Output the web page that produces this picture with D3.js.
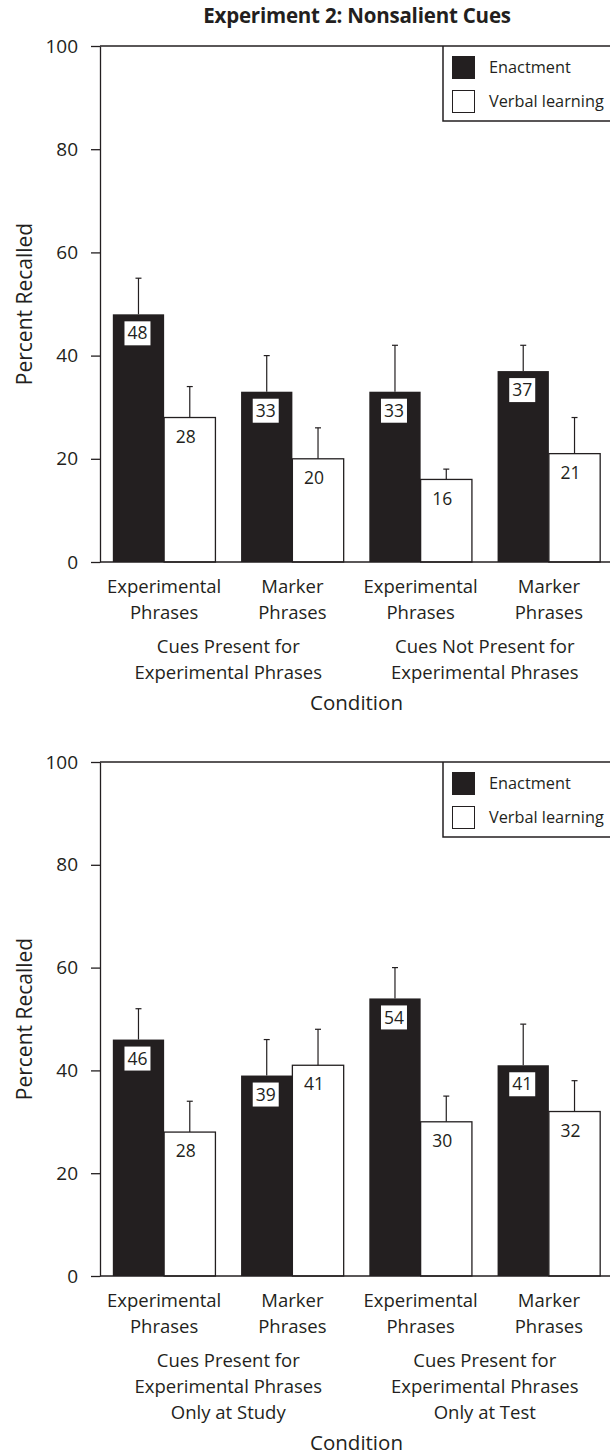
<!DOCTYPE html>
<html>
<head>
<meta charset="utf-8">
<script src="https://cdn.jsdelivr.net/npm/d3@7"></script>
<style>
  html, body { margin: 0; padding: 0; background: #fff; }
  svg { display: block; font-family: "Open Sans", "Noto Sans", sans-serif; }
</style>
</head>
<body>
<svg id="chart" width="610" height="1456"></svg>
<script>
// Recall data: mean percent recalled and upper error-bar ends, per condition
const seriesNames = ["Enactment", "Verbal learning"];
const categoryLines = [
  ["Experimental", "Phrases"],
  ["Marker", "Phrases"],
  ["Experimental", "Phrases"],
  ["Marker", "Phrases"]
];
const yTicks = [0, 20, 40, 60, 80, 100];

// Panel 1: Experiment 2, nonsalient cues
const p1Enactment = [48, 33, 33, 37];
const p1Verbal = [28, 20, 16, 21];
const p1EnactmentUpper = [55, 40, 42, 42];
const p1VerbalUpper = [34, 26, 18, 28];
const p1Groups = [
  ["Cues Present for", "Experimental Phrases"],
  ["Cues Not Present for", "Experimental Phrases"]
];

// Panel 2
const p2Enactment = [46, 39, 54, 41];
const p2Verbal = [28, 41, 30, 32];
const p2EnactmentUpper = [52, 46, 60, 49];
const p2VerbalUpper = [34, 48, 35, 38];
const p2Groups = [
  ["Cues Present for", "Experimental Phrases", "Only at Study"],
  ["Cues Present for", "Experimental Phrases", "Only at Test"]
];

const ink = "#231f20";
const svg = d3.select("#chart");

svg.append("text")
  .attr("x", 357).attr("y", 23)
  .attr("text-anchor", "middle")
  .attr("font-weight", 700)
  .attr("font-size", 20.5)
  .attr("letter-spacing", -0.2)
  .attr("fill", ink)
  .text("Experiment 2: Nonsalient Cues");

function drawPanel(cfg) {
  const axisX = 100, rightEdge = 613;
  const g = svg.append("g");

  const y = d3.scaleLinear().domain([0, 100]).range([cfg.y0, cfg.y100]);
  const x = d3.scaleBand()
    .domain(d3.range(categoryLines.length))
    .range([axisX, rightEdge])
    .paddingInner(0.2)
    .paddingOuter(0.1);
  const xs = d3.scaleBand().domain(seriesNames).range([0, x.bandwidth()]);

  const rows = categoryLines.map((c, i) => ({
    i,
    vals: [
      { s: seriesNames[0], v: cfg.enact[i], up: cfg.enactUp[i] },
      { s: seriesNames[1], v: cfg.verbal[i], up: cfg.verbalUp[i] }
    ]
  }));

  // frame top line
  g.append("line")
    .attr("x1", axisX).attr("x2", 610)
    .attr("y1", y(100)).attr("y2", y(100))
    .attr("stroke", ink).attr("stroke-width", 1.3);

  // bars
  const grp = g.selectAll("g.grp").data(rows).join("g")
    .attr("transform", d => `translate(${x(d.i)},0)`);

  grp.selectAll("rect.bar").data(d => d.vals).join("rect")
    .attr("x", d => xs(d.s))
    .attr("y", d => y(d.v))
    .attr("width", xs.bandwidth())
    .attr("height", d => y(0) - y(d.v))
    .attr("fill", d => d.s === seriesNames[0] ? ink : "#fff")
    .attr("stroke", ink)
    .attr("stroke-width", d => d.s === seriesNames[0] ? 0 : 1.3);

  // upper error bars
  const eb = grp.selectAll("g.err").data(d => d.vals).join("g");
  eb.append("line")
    .attr("x1", d => xs(d.s) + xs.bandwidth() / 2)
    .attr("x2", d => xs(d.s) + xs.bandwidth() / 2)
    .attr("y1", d => y(d.v)).attr("y2", d => y(d.up))
    .attr("stroke", ink).attr("stroke-width", 1.2);
  eb.append("line")
    .attr("x1", d => xs(d.s) + xs.bandwidth() / 2 - 3)
    .attr("x2", d => xs(d.s) + xs.bandwidth() / 2 + 3)
    .attr("y1", d => y(d.up)).attr("y2", d => y(d.up))
    .attr("stroke", ink).attr("stroke-width", 1.2);

  // value labels
  const lab = grp.selectAll("g.lab").data(d => d.vals).join("g");
  lab.filter(d => d.s === seriesNames[0]).append("rect")
    .attr("x", d => xs(d.s) + xs.bandwidth() / 2 - 1 - 13)
    .attr("y", d => y(d.v) + 7)
    .attr("width", 26).attr("height", 24)
    .attr("fill", "#fff");
  lab.append("text")
    .attr("x", d => xs(d.s) + xs.bandwidth() / 2 + (d.s === seriesNames[0] ? -1 : -4))
    .attr("y", d => y(d.v) + 19)
    .attr("dy", "0.35em")
    .attr("text-anchor", "middle")
    .attr("font-size", 17.5)
    .attr("fill", ink)
    .text(d => d.v);

  // y axis
  const ax = g.append("g")
    .attr("transform", `translate(${axisX},0)`)
    .call(d3.axisLeft(y).tickValues(yTicks).tickSize(9).tickSizeOuter(0).tickPadding(13));
  ax.select(".domain").attr("stroke", ink).attr("stroke-width", 1.3);
  ax.selectAll(".tick line").attr("stroke", ink).attr("stroke-width", 1.3);
  ax.selectAll(".tick text")
    .attr("font-size", 19).attr("fill", ink)
    .attr("font-family", "Open Sans, Noto Sans, sans-serif");

  // x axis baseline
  g.append("line")
    .attr("x1", axisX).attr("x2", 610)
    .attr("y1", y(0)).attr("y2", y(0))
    .attr("stroke", ink).attr("stroke-width", 1.3);

  // category labels
  const catY = y(0) + 24.5, lineH = 26;
  categoryLines.forEach((lines, i) => {
    const t = g.append("text")
      .attr("text-anchor", "middle")
      .attr("font-size", 18.5)
      .attr("fill", ink);
    lines.forEach((s, k) => {
      t.append("tspan")
        .attr("x", x(i) + x.bandwidth() / 2)
        .attr("y", catY + k * lineH)
        .attr("dy", "0.35em")
        .text(s);
    });
  });

  // group labels
  const grpY = y(0) + 84.5;
  cfg.groups.forEach((lines, j) => {
    const cx = (x(2 * j) + x(2 * j + 1) + x.bandwidth()) / 2;
    const t = g.append("text")
      .attr("text-anchor", "middle")
      .attr("font-size", 18.5)
      .attr("fill", ink);
    lines.forEach((s, k) => {
      t.append("tspan")
        .attr("x", cx)
        .attr("y", grpY + k * lineH)
        .attr("dy", "0.35em")
        .text(s);
    });
  });
  const nLines = d3.max(cfg.groups, d => d.length);

  // axis titles
  g.append("text")
    .attr("x", (axisX + rightEdge) / 2)
    .attr("y", grpY + (nLines - 1) * lineH + 30)
    .attr("dy", "0.35em")
    .attr("text-anchor", "middle")
    .attr("font-size", 20.5)
    .attr("fill", ink)
    .text("Condition");

  g.append("text")
    .attr("transform", `translate(25,${(y(0) + y(100)) / 2}) rotate(-90)`)
    .attr("dy", "0.35em")
    .attr("text-anchor", "middle")
    .attr("font-size", 21)
    .attr("fill", ink)
    .text("Percent Recalled");

  // legend
  const top = y(100);
  const leg = g.append("g");
  leg.append("path")
    .attr("d", `M443,${top}V${top + 75}H610`)
    .attr("fill", "none")
    .attr("stroke", ink).attr("stroke-width", 1.5);
  seriesNames.forEach((s, k) => {
    const sy = top + 10 + k * 34;
    leg.append("rect")
      .attr("x", k === 0 ? 452 : 452.5).attr("y", k === 0 ? sy : sy + 0.5)
      .attr("width", k === 0 ? 23 : 22).attr("height", k === 0 ? 23 : 22)
      .attr("fill", k === 0 ? ink : "#fff")
      .attr("stroke", ink).attr("stroke-width", k === 0 ? 0 : 1);
    leg.append("text")
      .attr("x", 489).attr("y", sy + 11.5)
      .attr("dy", "0.35em")
      .attr("font-size", 16.3)
      .attr("fill", ink)
      .text(s);
  });
}

drawPanel({
  y0: 562, y100: 46,
  enact: p1Enactment, verbal: p1Verbal,
  enactUp: p1EnactmentUpper, verbalUp: p1VerbalUpper,
  groups: p1Groups
});
drawPanel({
  y0: 1276, y100: 762,
  enact: p2Enactment, verbal: p2Verbal,
  enactUp: p2EnactmentUpper, verbalUp: p2VerbalUpper,
  groups: p2Groups
});
</script>
</body>
</html>
